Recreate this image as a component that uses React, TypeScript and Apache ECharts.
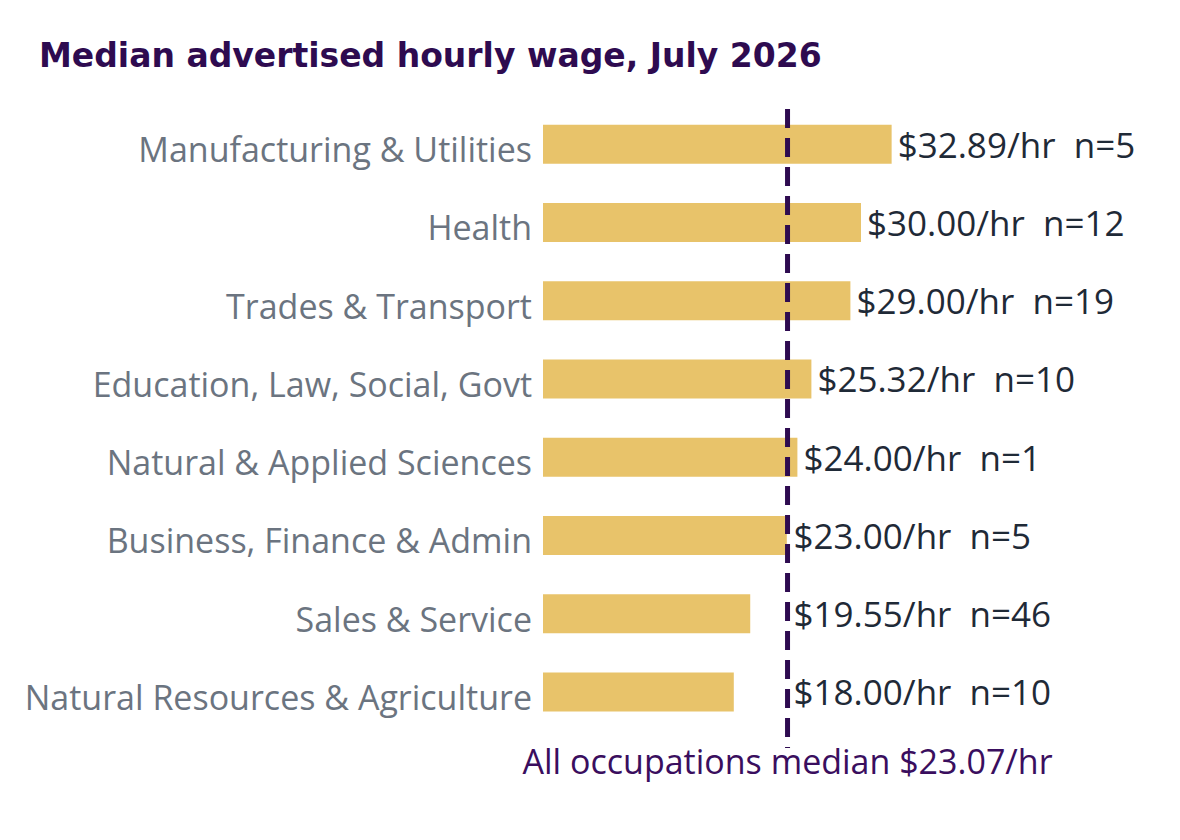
import * as echarts from "echarts";
import React, { useEffect, useRef } from "react";

const categories = [
    "Manufacturing & Utilities",
    "Health",
    "Trades & Transport",
    "Education, Law, Social, Govt",
    "Natural & Applied Sciences",
    "Business, Finance & Admin",
    "Sales & Service",
    "Natural Resources & Agriculture",
];
const wages = [32.89, 30.0, 29.0, 25.32, 24.0, 23.0, 19.55, 18.0];
const counts = [5, 12, 19, 10, 1, 5, 46, 10];
const overallMedian = 23.07;
const xMax = 40;

// grafico barras salario mediano
const WageChart: React.FC = () => {
    const chartRef = useRef<HTMLDivElement>(null);

    useEffect(() => {
        if (!chartRef.current) return;
        document.body.style.margin = "0";
        const chart = echarts.init(chartRef.current, undefined, { renderer: "svg" });

        chart.setOption({
            animation: false,
            title: {
                text: "Median advertised hourly wage, July 2026",
                left: 34,
                top: 34,
                textStyle: { color: "#2e0b50", fontFamily: "DejaVu Sans", fontWeight: "bold", fontSize: 33 },
            },
            grid: [
                { left: 543, right: 213, top: 105, bottom: 109 },
                { left: 543, right: 213, top: 109, bottom: 92 },
            ],
            xAxis: [
                { gridIndex: 0, type: "value", min: 0, max: xMax, show: false },
                { gridIndex: 1, type: "value", min: 0, max: xMax, show: false },
            ],
            yAxis: [
                {
                    gridIndex: 0,
                    type: "category",
                    inverse: true,
                    data: categories,
                    axisLine: { show: false },
                    axisTick: { show: false },
                    axisLabel: {
                        margin: 11,
                        formatter: (v: string) => `{c|${v}}`,
                        rich: {
                            c: {
                                color: "#6b7480",
                                fontFamily: "Open Sans",
                                fontSize: 34,
                                padding: [10, 0, 0, 0],
                            },
                        },
                    },
                },
                { gridIndex: 1, type: "value", min: 0, max: 1, show: false },
            ],
            series: [
                {
                    type: "bar",
                    data: wages,
                    barWidth: 39,
                    itemStyle: { color: "#e8c36a" },
                    z: 2,
                },
                {
                    // invisible carrier for the value labels, pushed past the median line
                    type: "bar",
                    data: wages.map((w) => Math.max(w, overallMedian)),
                    barWidth: 39,
                    barGap: "-100%",
                    itemStyle: { color: "transparent" },
                    silent: true,
                    z: 1,
                    label: {
                        show: true,
                        position: "right",
                        distance: 6,
                        color: "#1f2a37",
                        fontFamily: "Open Sans",
                        fontSize: 35,
                        formatter: (p: any) =>
                            `$${wages[p.dataIndex].toFixed(2)}/hr \u00a0n=${counts[p.dataIndex]}`,
                    },
                },
                {
                    type: "line",
                    xAxisIndex: 1,
                    yAxisIndex: 1,
                    data: [[overallMedian, 1], [overallMedian, 0]],
                    symbol: "none",
                    lineStyle: { color: "#2e0b50", width: 5, type: [19, 10] },
                    z: 5,
                    label: { show: false },
                    markPoint: {
                        symbol: "circle",
                        symbolSize: 0,
                        data: [
                            {
                                coord: [overallMedian, 0],
                                label: {
                                    show: true,
                                    position: "bottom",
                                    distance: -4,
                                    formatter: `All occupations median $${overallMedian.toFixed(2)}/hr`,
                                    color: "#3a0e5e",
                                    fontFamily: "Open Sans",
                                    fontSize: 34,
                                },
                            },
                        ],
                    },
                },
            ],
        });

        return () => { chart.dispose(); };
    }, []);

    return <div ref={chartRef} style={{ width: 1180, height: 840, background: "#fff" }} />;
};

export default function App() {
    return <WageChart />;
}
